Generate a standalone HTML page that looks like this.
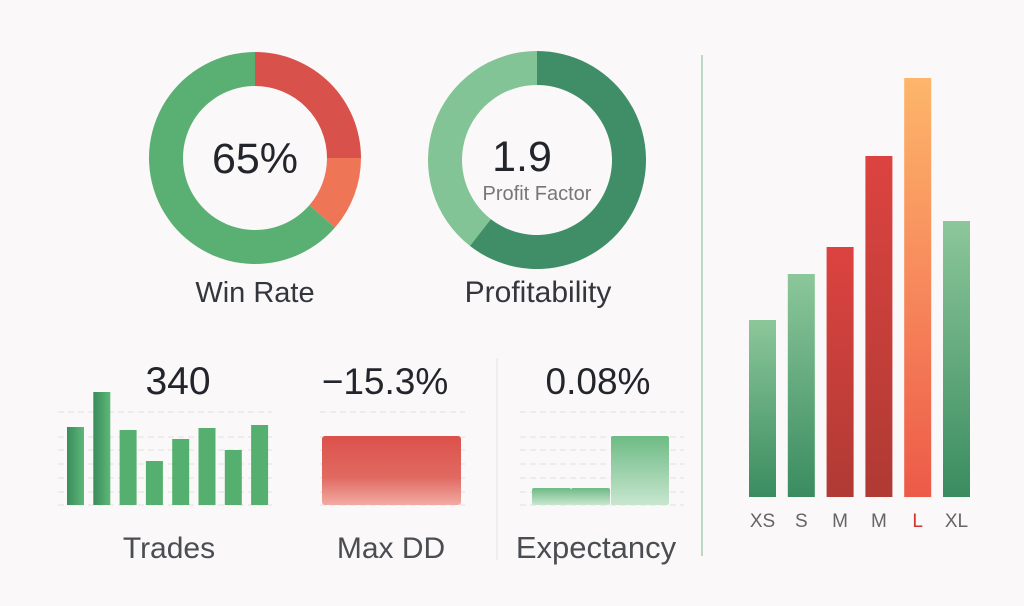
<!DOCTYPE html>
<html><head><meta charset="utf-8"><style>
body{margin:0;background:#faf8f8;font-family:"Liberation Sans",sans-serif;}
svg{display:block}
</style></head><body>
<svg width="1024" height="606" viewBox="0 0 1024 606">
<defs>
<linearGradient id="gG" x1="0" y1="0" x2="0" y2="1"><stop offset="0" stop-color="#8cc79a"/><stop offset="1" stop-color="#3a8c60"/></linearGradient>
<linearGradient id="gR" x1="0" y1="0" x2="0" y2="1"><stop offset="0" stop-color="#dc4340"/><stop offset="1" stop-color="#b03a34"/></linearGradient>
<linearGradient id="gL" x1="0" y1="0" x2="0" y2="1"><stop offset="0" stop-color="#fdb66a"/><stop offset="0.5" stop-color="#f7885c"/><stop offset="1" stop-color="#ec5a48"/></linearGradient>
<linearGradient id="gDD" x1="0" y1="0" x2="0" y2="1"><stop offset="0" stop-color="#dc514a"/><stop offset="0.6" stop-color="#e06a62"/><stop offset="1" stop-color="#f2aaa4"/></linearGradient>
<linearGradient id="gEx" x1="0" y1="0" x2="0" y2="1"><stop offset="0" stop-color="#6dbb84"/><stop offset="1" stop-color="#c8e6cf"/></linearGradient>
<linearGradient id="gT" x1="0" y1="0" x2="1" y2="0"><stop offset="0" stop-color="#3b8c5c"/><stop offset="1" stop-color="#5cb878"/></linearGradient>
</defs>
<line x1="702" y1="55" x2="702" y2="556" stroke="#a9cdb6" stroke-width="1.5"/>
<line x1="497" y1="358" x2="497" y2="560" stroke="#e6e2e2" stroke-width="1"/>
<g id="donuts"></g>
<text x="255" y="173" text-anchor="middle" font-size="43" fill="#22252b">65%</text>
<text x="522" y="171" text-anchor="middle" font-size="43" fill="#22252b">1.9</text>
<text x="537" y="200" text-anchor="middle" font-size="20" fill="#777">Profit Factor</text>
<text x="255" y="302" text-anchor="middle" font-size="29" fill="#33363c">Win Rate</text>
<text x="538" y="302" text-anchor="middle" font-size="30" fill="#33363c">Profitability</text>
<g id="grid" stroke="#e4e0e0" stroke-dasharray="6,4" stroke-width="1"></g>
<g id="mini"></g>
<text x="178" y="394" text-anchor="middle" font-size="39" fill="#22252b">340</text>
<text x="385" y="394" text-anchor="middle" font-size="37" fill="#22252b">−15.3%</text>
<text x="598" y="394" text-anchor="middle" font-size="37" fill="#22252b">0.08%</text>
<text x="169" y="558" text-anchor="middle" font-size="30" fill="#4a4d52">Trades</text>
<text x="391" y="558" text-anchor="middle" font-size="30" fill="#4a4d52">Max DD</text>
<text x="596" y="558" text-anchor="middle" font-size="31" fill="#4a4d52">Expectancy</text>
<g id="right"></g>
</svg>
<script>
const NS="http://www.w3.org/2000/svg";
const sizeCats=["XS","S","M","M","L","XL"];
const sizeVals=[177,223,250,341,419,276];
const sizeFills=["url(#gG)","url(#gG)","url(#gR)","url(#gR)","url(#gL)","url(#gG)"];
const tradeVals=[78,113,75,44,66,77,55,80];
const ddVals=[69];
const expVals=[17,17,69];
const winSegs=[90,41,229];
const winColors=["#d9514b","#ef7557","#5aaf73"];
const pfSegs=[218,142];
const pfColors=["#3f8e68","#82c495"];
function mk(t,a,p){const e=document.createElementNS(NS,t);for(const k in a)e.setAttribute(k,a[k]);p.appendChild(e);return e;}
function arc(cx,cy,r0,r1,a0,a1){const p=(r,a)=>{const t=(a-90)*Math.PI/180;return[cx+r*Math.cos(t),cy+r*Math.sin(t)]};const L=a1-a0>180?1:0;const A=p(r1,a0),B=p(r1,a1),C=p(r0,a1),D=p(r0,a0);return `M${A}A${r1},${r1} 0 ${L} 1 ${B}L${C}A${r0},${r0} 0 ${L} 0 ${D}Z`;}
const dg=document.getElementById('donuts');
function donut(cx,cy,r0,r1,segs,cols,name){let a=0;segs.forEach((s,i)=>{const e=mk('path',{d:arc(cx,cy,r0,r1,a,a+s),fill:cols[i]},dg);

a+=s;});}
donut(255,158,72,106,winSegs,winColors,'win-rate');
donut(537,160,75,109,pfSegs,pfColors,'profit-factor');
const gg=document.getElementById('grid');
[412,437,450,464,478,492,505].forEach(y=>{[[58,272],[320,465],[520,684]].forEach(([a,b])=>{const l=mk('line',{x1:a,x2:b,y1:y,y2:y},gg);

});});
const mg=document.getElementById('mini');
const base=505,sc=1;
tradeVals.forEach((v,i)=>{const r=mk('rect',{x:67+i*26.3,y:base-v*sc,width:17,height:v*sc,fill:i<2?'url(#gT)':'#55b070'},mg);

});
ddVals.forEach((v,i)=>{const r=mk('rect',{x:322,y:base-v,width:139,height:v,rx:3,fill:'url(#gDD)'},mg);

});
const ex=[[532,39],[571,39],[611,58]];
expVals.forEach((v,i)=>{const r=mk('rect',{x:ex[i][0],y:base-v,width:ex[i][1],height:v,rx:2,fill:'url(#gEx)'},mg);

});
const rg=document.getElementById('right');
const rb=497;
sizeVals.forEach((v,i)=>{const x=749+i*38.8;const r=mk('rect',{x:x,y:rb-v,width:27,height:v,fill:sizeFills[i]},rg);


const t=mk('text',{x:x+13.5,y:527,'text-anchor':'middle','font-size':19,fill:i==4?'#d0352e':'#666'},rg);t.textContent=sizeCats[i];

});
</script>
</body></html>
